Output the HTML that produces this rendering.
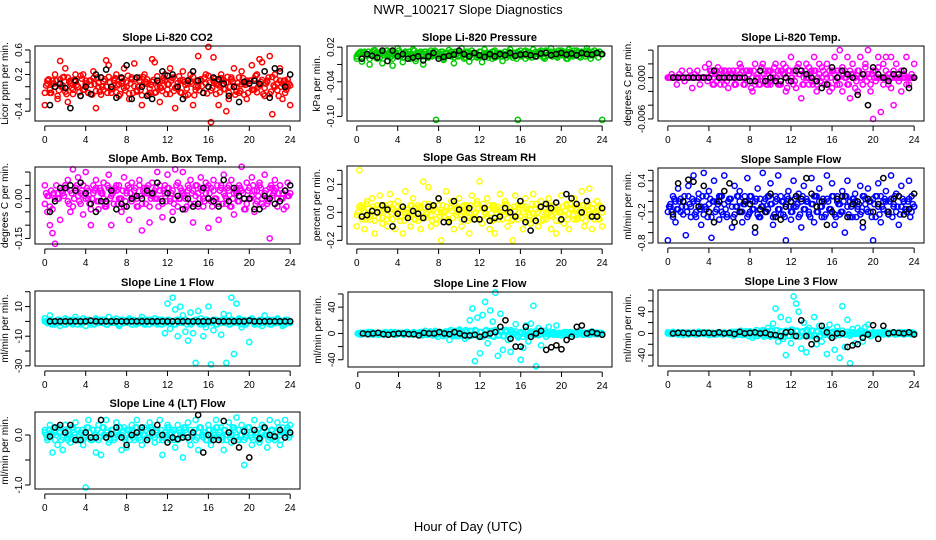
<!DOCTYPE html>
<html><head><meta charset="utf-8"><style>
body{margin:0;background:#fff}
svg{display:block;font-family:"Liberation Sans",Arial,sans-serif}
</style></head><body>
<svg id="chart" width="936" height="540" viewBox="0 0 936 540" xmlns="http://www.w3.org/2000/svg">
<rect width="936" height="540" fill="#fff"/>
<text x="468" y="14" text-anchor="middle" font-size="13">NWR_100217  Slope Diagnostics</text>
<text x="468" y="531" text-anchor="middle" font-size="13">Hour of Day (UTC)</text>
</svg>
<script>
const xTicks=[0,4,8,12,16,20,24];
// CO2
const co2Vals=[-0.3,0.1,-0.1,0.05,0.2,-0.2,0.42,0.15,0.3,-0.25,0.1,-0.05,0.2,0.0,-0.15,0.2,0.05,-0.1,0.1,0.25,-0.35,0.0,0.15,-0.05,0.43,0.35,-0.1,0.1,0.2,-0.15,0.05,0.3,0.0,-0.2,0.12,0.38,-0.08,0.15,-0.3,0.2,0.05,-0.1,0.45,0.4,0.0,-0.25,0.1,0.2,-0.05,0.3,0.15,-0.35,0.0,0.1,0.25,-0.15,0.05,0.2,-0.3,0.0,0.5,0.1,-0.1,0.2,0.65,-0.58,0.48,0.05,-0.3,0.2,0.1,-0.4,-0.2,0.15,0.3,0.0,-0.1,0.25,0.05,-0.2,0.1,0.35,-0.05,0.2,0.45,0.4,-0.15,0.1,0.5,-0.45,0.2,0.05,0.3,-0.2,0.1,0.0,-0.3];
const co2Core=[-0.1,0.05,-0.05,0.1,0.0,-0.15,0.12,0.02,-0.08,0.15,0.05,-0.12,0.08,0.0,0.18,-0.05,0.1,-0.1,0.03,0.14,-0.07,0.06,-0.13,0.09,0.0,0.16,-0.04,0.11,-0.09,0.04,0.13,-0.02,0.07,-0.11,0.15,0.01,-0.06,0.1,-0.14,0.05,0.12,-0.03,0.08,-0.1,0.17,0.0,-0.07,0.1,0.04,-0.12,0.14,-0.02,0.06,-0.09,0.11,0.03,-0.13,0.08,0.16,-0.05,0.0,0.12,-0.1,0.05,0.18,-0.06,0.09,-0.12,0.02,0.14,-0.04,0.07,-0.1,0.12,0.0,-0.08,0.15,0.04,-0.13,0.1,0.06,-0.05,0.13,-0.09,0.03,0.11,-0.02,0.08,-0.12,0.16,0.0,-0.06,0.1,0.05,-0.1,0.12,0.02];
const co2Blk=[-0.3,0.0,0.05,-0.02,-0.35,0.1,-0.15,0.0,-0.12,0.2,0.15,0.28,0.0,-0.18,0.15,0.35,-0.2,0.15,0.0,-0.15,-0.2,0.1,0.25,0.18,0.2,0.0,-0.2,0.1,0.25,0.1,-0.1,0.0,0.15,0.12,0.05,-0.15,0.0,-0.25,0.08,0.05,0.1,0.05,0.25,-0.18,0.3,0.25,0.0,0.2];
// Pressure
const presVals=[0.0,0.01,-0.005,0.012,0.005,-0.01,0.008,0.015,0.0,0.01,-0.008,0.006,0.014,0.002,-0.012,0.01,0.018,0.004,-0.006,0.012,0.008,0.0,0.016,-0.004,0.01,0.006,-0.01,0.012,0.002,0.014,0.008,-0.106,0.006,0.012,-0.002,0.01,0.015,0.004,-0.008,0.012,0.006,0.018,0.0,0.01,-0.005,0.014,0.008,0.002,0.012,-0.006,0.016,0.006,0.01,0.0,0.014,0.004,0.01,-0.004,0.012,0.008,0.016,0.002,0.01,-0.106,0.014,0.006,0.0,0.012,0.008,0.016,0.004,0.01,0.014,0.002,0.012,0.006,0.018,0.01,0.004,0.014,0.008,0.012,0.0,0.016,0.006,0.01,0.014,0.004,0.012,0.008,0.018,0.01,0.006,0.014,0.01,0.012,-0.106];
const presCore=[0.004,0.008,0.002,0.01,0.006,0.0,0.012,0.004,0.008,0.002,0.01,0.006,0.004,0.012,0.0,0.008,0.006,0.01,0.002,0.012,0.004,0.008,0.006,0.0,0.01,0.012,0.004,0.008,0.002,0.01,0.006,0.012,0.004,0.008,0.0,0.01,0.006,0.012,0.002,0.008,0.004,0.01,0.006,0.012,0.008,0.002,0.01,0.006,0.012,0.004,0.008,0.01,0.006,0.012,0.002,0.008,0.01,0.004,0.012,0.006,0.008,0.01,0.004,0.012,0.006,0.008,0.014,0.004,0.01,0.006,0.012,0.008,0.01,0.004,0.014,0.006,0.012,0.008,0.01,0.006,0.014,0.008,0.012,0.004,0.01,0.014,0.006,0.012,0.008,0.01,0.014,0.006,0.012,0.008,0.01,0.012,0.008];
const presBlk=[0.0,0.008,0.005,0.002,0.014,-0.004,0.014,0.004,0.008,0.0,0.002,0.004,-0.003,0.004,0.01,0.0,0.003,0.005,0.007,0.014,0.008,0.004,0.01,0.006,0.003,0.008,0.004,0.008,0.006,0.01,0.005,0.007,0.008,0.006,0.004,0.009,0.01,0.006,0.008,0.01,0.007,0.009,0.006,0.01,0.008,0.007,0.01,0.008];
// Li-820 Temp
const tempVals=[0,0,0,0,0,0,0,0,0,0,0,0,0,0,0,0,0.002,0.001,-0.001,0.001,0,0.001,-0.001,0,0.001,0,-0.001,0.001,0.002,0,-0.001,0.001,0.001,-0.002,0.002,0,-0.001,0.002,0.001,-0.001,0.001,0,0.002,-0.001,0.001,0.002,-0.002,0.001,0.003,-0.001,0.001,0.002,-0.003,0,0.002,-0.001,0.001,0.003,-0.002,0.002,0,-0.001,0.002,-0.002,0.001,0.003,-0.001,0.004,-0.002,0.001,0.003,-0.003,0.002,0,-0.002,0.003,-0.001,0.002,0.004,-0.002,-0.006,0.001,0.003,-0.005,0.002,0.003,-0.001,0.003,-0.004,0.002,0,-0.002,0.001,0.003,-0.001,0,0.002];
const tempCore=[0,0,0,0,0,0,0,0,0,0,0,0,0,0,0,0,0,0.0005,0,-0.0005,0.0005,0,0.001,-0.0005,0,0.0005,-0.001,0,0.0005,0.001,0,-0.0005,0.001,0,-0.001,0.0005,0.001,-0.0005,0,0.001,-0.001,0.0005,0,0.001,-0.001,0.0005,0.0015,-0.0005,0,0.001,-0.0015,0.0005,0.001,-0.001,0,0.0015,-0.0005,0.001,-0.001,0.0005,0.0015,-0.001,0,0.001,-0.0015,0.0005,0.001,-0.001,0.0015,0,-0.001,0.001,0.0005,-0.0015,0.001,0,-0.001,0.0015,0.0005,-0.001,0.001,-0.0005,0.0015,0,-0.001,0.001,0.0005,-0.0015,0.001,0,-0.0005,0.001,0.0005,-0.001,0,0.0005,0];
const tempBlk=[0,0,0,0,0,0,0,0,0.001,0,0,0,0,0,0,-0.0005,-0.0005,0.001,-0.0005,0,-0.0005,-0.0005,0,-0.0005,0.001,0.001,0.0005,0,-0.0005,-0.0015,-0.001,0.0015,0,0.001,0.0005,0,-0.0025,0.0005,-0.004,0.0015,0.0005,0,-0.0005,0.0005,0.0005,0.001,-0.0015,0];
// Amb Box Temp
const ambVals=[0.05,-0.05,-0.1,-0.13,-0.17,0.0,-0.08,0.02,0.05,0.07,-0.05,0.11,0.04,0.08,0.02,-0.06,0.1,0.0,-0.1,0.05,0.07,-0.04,0.02,0.06,-0.02,0.09,-0.1,0.03,0.05,0.0,-0.05,0.08,0.03,-0.08,0.06,0.01,-0.03,0.07,-0.12,0.04,0.02,-0.09,0.06,0.0,0.1,0.03,-0.07,0.05,0.09,0.0,-0.05,0.11,0.06,0.0,0.1,-0.04,0.03,0.07,-0.09,0.05,0.02,0.08,-0.03,0.06,-0.11,0.04,0.07,0.0,-0.08,0.05,0.09,-0.02,0.03,0.07,-0.06,0.02,0.05,0.12,-0.04,0.06,0.0,0.08,-0.05,0.03,0.06,-0.02,0.09,0.0,-0.15,0.04,0.07,-0.03,0.05,0.0,0.03,0.06,0.02];
const ambCore=[-0.02,0.01,-0.03,-0.04,0.0,0.02,0.04,0.02,0.05,-0.01,0.03,-0.03,0.04,0.01,-0.02,0.05,0.0,0.03,-0.04,0.02,0.04,-0.01,0.03,0.0,-0.03,0.04,0.01,-0.02,0.03,0.05,0.0,-0.03,0.02,0.04,-0.01,0.03,0.0,0.05,-0.02,0.02,0.04,-0.03,0.01,0.03,0.0,0.05,-0.02,0.02,0.04,-0.01,0.03,0.0,-0.03,0.04,0.02,0.0,0.05,-0.02,0.03,0.01,-0.03,0.04,0.0,0.02,0.05,-0.01,0.03,0.0,-0.02,0.04,0.02,0.0,0.05,-0.03,0.02,0.04,-0.01,0.03,0.0,-0.02,0.04,0.01,0.03,-0.01,0.05,0.0,0.02,-0.02,0.04,0.01,0.03,0.0,0.05,0.02,0.03,0.01,0.02];
const ambBlk=[-0.05,-0.01,0.04,0.04,0.05,0.03,0.06,0.02,-0.02,-0.05,-0.01,-0.01,0.03,-0.04,-0.02,-0.03,0.0,0.01,0.0,0.03,0.02,0.06,-0.01,0.02,-0.08,0.01,-0.04,0.0,-0.03,-0.02,0.04,0.0,-0.01,-0.03,0.07,-0.01,0.04,0.01,0.0,0.0,-0.04,-0.04,0.01,0.0,-0.02,-0.01,0.03,0.05];
// Gas Stream RH
const rhVals=[-0.1,0.3,0.03,-0.12,0.08,-0.05,0.1,-0.15,0.0,0.12,-0.08,0.05,-0.1,0.13,0.02,-0.12,0.08,-0.03,-0.15,0.15,0.0,-0.1,0.1,-0.05,0.05,-0.12,0.22,0.0,0.18,-0.1,0.05,-0.08,0.1,-0.2,0.0,0.15,-0.05,0.08,-0.12,0.02,0.1,-0.1,0.05,0.0,-0.15,0.12,-0.05,0.08,0.22,-0.08,0.0,0.1,-0.12,0.05,-0.15,0.02,0.13,-0.05,0.08,-0.1,0.0,-0.2,0.12,-0.05,0.05,-0.12,0.1,0.0,-0.08,0.13,0.02,-0.1,0.08,-0.05,0.0,0.1,-0.12,0.05,-0.15,0.0,0.12,-0.08,0.05,-0.12,0.02,0.1,-0.05,0.0,0.15,-0.1,0.05,0.17,-0.12,0.0,0.08,-0.05,-0.1];
const rhCore=[-0.02,0.04,-0.05,0.0,0.06,-0.03,0.02,-0.06,0.05,0.0,-0.04,0.03,-0.02,0.06,-0.05,0.01,0.04,-0.06,0.02,0.0,-0.03,0.05,-0.01,0.03,-0.06,0.04,0.0,-0.04,0.06,-0.02,0.02,-0.05,0.05,0.0,-0.03,0.04,-0.06,0.01,0.06,-0.02,0.03,-0.05,0.0,0.05,-0.04,0.02,-0.01,0.06,-0.05,0.03,0.0,-0.03,0.05,-0.06,0.02,0.04,-0.02,0.0,0.06,-0.04,0.03,-0.05,0.01,0.05,-0.03,0.0,0.04,-0.06,0.02,-0.01,0.06,-0.04,0.03,0.0,-0.05,0.05,-0.02,0.02,-0.06,0.04,0.0,-0.03,0.06,-0.01,0.03,-0.05,0.02,0.05,-0.04,0.0,0.04,-0.02,0.03,-0.05,0.01,0.05,0.0];
const rhBlk=[-0.03,-0.02,0.01,0.0,0.05,0.02,-0.1,-0.01,0.04,-0.04,0.01,-0.01,-0.04,0.04,0.05,0.1,-0.07,-0.07,0.08,0.02,-0.05,0.03,-0.05,-0.05,0.03,-0.06,-0.04,-0.03,0.03,0.0,-0.03,0.08,-0.07,-0.13,-0.06,0.04,0.06,0.03,0.07,-0.05,0.13,0.1,0.06,0.0,0.08,-0.03,-0.03,0.03];
// Sample Flow
const sfVals=[-0.75,-0.1,0.1,-0.4,0.25,-0.2,0.0,-0.65,0.3,-0.1,0.5,-0.3,0.15,-0.45,0.55,-0.15,0.2,-0.7,0.4,0.0,-0.35,0.1,0.5,-0.25,0.05,-0.5,0.3,-0.1,0.2,-0.4,0.1,0.45,-0.2,0.0,-0.6,0.25,-0.3,0.55,0.05,-0.15,0.35,-0.45,0.1,0.5,-0.25,0.0,-0.75,0.2,-0.35,0.4,-0.1,0.15,-0.5,0.3,0.0,-0.2,0.45,-0.4,0.1,0.25,-0.3,0.0,0.5,-0.15,0.35,-0.45,0.1,-0.25,0.2,-0.6,0.4,0.0,-0.3,0.15,-0.1,0.3,-0.5,0.05,0.25,-0.2,-0.75,0.1,0.35,-0.4,0.0,0.2,-0.25,0.5,-0.1,0.15,-0.45,0.3,0.0,-0.2,0.4,0.1,-0.1];
const sfCore=[-0.2,-0.05,-0.3,0.0,-0.15,0.05,-0.25,-0.1,0.1,-0.3,0.0,-0.2,0.05,-0.1,-0.25,0.1,-0.05,-0.3,0.0,-0.15,0.1,-0.2,-0.05,-0.3,0.05,-0.1,-0.25,0.1,0.0,-0.2,-0.05,-0.3,0.1,-0.15,0.0,-0.25,0.05,-0.1,-0.2,0.1,-0.05,-0.3,0.0,-0.15,0.1,-0.25,-0.05,0.05,-0.2,-0.1,0.1,-0.3,0.0,-0.15,0.05,-0.25,-0.05,0.1,-0.2,0.0,-0.1,-0.3,0.05,-0.15,0.1,-0.25,0.0,-0.05,-0.2,0.1,-0.1,-0.3,0.05,0.0,-0.15,-0.25,0.1,-0.05,-0.2,0.0,0.05,-0.3,-0.1,0.1,-0.15,0.0,-0.25,0.05,-0.05,-0.2,0.1,-0.1,0.0,-0.15,0.05,-0.2,-0.1];
const sfBlk=[-0.25,0.35,0.0,0.42,0.38,-0.1,0.3,-0.2,-0.4,0.0,0.2,0.35,-0.4,-0.2,0.0,-0.05,-0.5,-0.15,-0.2,0.15,-0.3,-0.35,-0.1,0.0,0.1,0.05,0.45,0.15,-0.1,0.0,-0.45,-0.2,0.05,0.1,-0.3,-0.05,0.0,-0.4,0.05,-0.2,-0.05,0.45,-0.2,0.05,0.1,-0.25,-0.15,0.15];
// Line 1 Flow
const l1Vals=[2,-1,4,0,-2,1,-3,0,2,-1,1,-2,3,0,-1,2,-3,1,0,-2,2,-1,1,0,-2,3,-1,0,2,-3,1,-1,0,2,-2,1,0,-1,3,-2,1,0,-1,2,-2,0,1,-8,12,-5,16,8,-10,10,4,-7,-13,6,-8,-28,7,2,-10,-4,10,-29,-6,1,0,-9,5,-28,4,16,-22,12,2,-4,1,-1,-14,2,-2,0,1,-3,4,0,-2,1,-1,2,0,-3,1,0,-1];
const l1Core=[0,-1,1,-2,0,1,-1,0,-2,1,0,-1,1,0,-2,0,1,-1,0,-2,1,0,-1,1,-2,0,1,-1,0,-2,1,0,-1,1,0,-2,0,1,-1,0,-2,1,0,-1,1,-2,0,1,-1,0,-2,1,0,-1,1,0,-2,0,1,-1,0,-2,1,0,-1,1,-2,0,1,-1,0,-2,1,0,-1,1,0,-2,0,1,-1,0,-2,1,0,-1,1,-2,0,1,-1,0,-2,1,0];
const l1Blk=[0,0,0,0,0,0,0,0,0.5,0,0,0,0,0,0,0,0,0,0,0,0,0,0,0,0,0,0,0,0,0,0,0,0.5,0,0,0,0,0,0,0.5,0,0,0,0,0,0,0,0];
// Line 2 Flow
const l2Vals=[0,-2,1,0,-1,2,-2,0,1,-1,0,2,-1,0,1,-2,0,1,-1,2,0,-1,1,-2,0,2,-1,0,1,-1,0,-2,2,0,-1,1,-10,0,-4,2,6,-2,-8,3,20,38,-42,24,-30,28,48,-15,35,18,62,-34,30,-25,5,-10,-28,2,14,-6,-40,-22,12,-12,15,42,-50,8,-18,4,-5,10,1,-2,12,0,-3,2,-1,0,1,-2,0,2,-1,1,0,-2,3,0,-1,1,0];
const l2Core=[0,1,-1,0,2,-1,0,1,-2,0,1,-1,0,2,0,-1,1,0,-2,1,0,-1,2,0,1,-1,0,-2,1,0,2,-1,0,1,-2,0,3,-3,2,-4,4,-2,3,-5,4,-3,5,-4,2,-5,4,-2,3,-4,5,-3,2,-4,4,-3,5,-2,3,-4,2,-5,4,-3,3,-2,4,-3,2,-1,1,-2,0,2,-1,1,0,-1,2,0,-1,1,-2,0,1,0,-1,2,0,-1,1,0,0];
const l2Blk=[0,-1,0,1,-1,-2,-1,0,0,-1,-1,-3,1,0,0,2,0,-1,2,0,-3,-3,-2,-5,-2,0,2,10,20,-8,-20,-20,10,-5,0,4,-25,-21,-18,-24,-10,-5,10,12,0,2,0,-2];
// Line 3 Flow
const l3Vals=[2,-1,3,0,-2,1,-3,0,2,-1,1,-2,3,0,-1,2,-3,1,0,-2,2,-1,1,0,-2,3,-1,0,2,-3,1,-1,4,-8,2,-5,0,6,-3,10,-6,18,46,-15,30,-10,-40,25,-18,68,55,40,-28,20,-35,10,-5,30,-20,14,-15,5,-38,16,-8,-30,12,-45,50,-25,25,-55,8,-18,10,5,-15,12,16,-5,2,-3,1,0,-2,3,-1,0,2,-1,1,0,-2,1,0,2,0];
const l3Core=[0,1,-1,0,2,-1,0,1,-2,0,1,-1,0,2,0,-1,1,0,-2,1,0,-1,2,0,1,-1,0,-2,1,0,2,-1,0,1,-2,0,3,-3,4,-4,5,-2,6,-5,4,-6,5,-4,7,-5,4,-6,3,-4,6,-5,5,-4,4,-6,5,-3,6,-4,3,-5,4,-3,5,-2,3,-4,2,-1,1,-2,0,2,-1,1,0,-1,2,0,-1,1,-2,0,1,0,-1,2,0,-1,1,0,0];
const l3Blk=[0,1,1,0,1,0,1,1,0,2,0,1,-1,3,0,1,2,0,1,-2,-3,-5,2,3,-5,24,-5,-20,-10,14,2,-8,0,0,-25,-22,-20,-8,-2,15,-10,14,0,2,1,0,2,-2];
// Line 4 (LT) Flow
const l4Vals=[0.1,-0.1,0.2,-0.35,0.05,-0.2,0.15,-0.3,0.2,0.0,-0.15,0.1,0.25,-0.1,0.05,-0.2,-1.05,0.3,-0.1,0.1,-0.35,0.2,-0.4,0.0,0.3,-0.15,0.1,-0.05,0.25,0.0,-0.3,0.15,-0.25,0.1,0.2,-0.1,0.3,0.0,-0.2,0.15,-0.05,0.25,0.1,-0.15,0.05,0.3,-0.4,0.0,0.2,-0.1,0.1,-0.25,0.2,0.0,-0.45,0.1,0.25,-0.2,0.05,0.3,-0.3,0.15,0.0,-0.1,0.2,-0.2,0.1,0.3,-0.05,0.15,-0.3,0.0,0.25,-0.15,0.1,0.35,-0.1,0.2,-0.6,0.0,0.15,-0.2,0.3,0.05,-0.15,0.2,0.0,-0.25,0.3,0.1,-0.1,0.25,-0.2,0.05,0.3,0.15,0.2];
const l4Core=[0.05,-0.05,0.1,0.0,-0.1,0.15,0.05,-0.05,0.1,-0.1,0.0,0.15,-0.05,0.1,0.05,-0.1,0.0,0.15,-0.05,0.1,0.0,-0.1,0.05,0.15,-0.05,0.0,0.1,-0.1,0.05,0.15,0.0,-0.05,0.1,-0.1,0.05,0.0,0.15,-0.05,0.1,0.0,-0.1,0.05,0.15,-0.05,0.1,0.0,-0.1,0.05,0.15,0.0,-0.05,0.1,-0.1,0.05,0.0,0.15,-0.05,0.1,0.0,-0.1,0.05,0.15,-0.05,0.0,0.1,-0.1,0.05,0.15,0.0,-0.05,0.1,-0.1,0.05,0.0,0.15,-0.05,0.1,0.0,-0.1,0.05,0.15,-0.05,0.1,0.0,-0.1,0.05,0.15,0.0,-0.05,0.1,-0.1,0.05,0.0,0.15,0.05,0.1,0.0];
const l4Blk=[-0.03,0.15,0.2,0.05,0.2,-0.1,-0.1,0.05,-0.05,-0.05,0.3,-0.05,0.02,0.15,-0.05,-0.2,0.0,0.05,0.15,-0.1,0.05,0.2,0.0,-0.15,-0.05,-0.08,-0.05,-0.05,0.05,0.4,-0.35,0.0,-0.1,-0.1,0.28,0.05,-0.12,-0.25,0.07,-0.45,0.1,-0.07,0.15,0.0,-0.03,0.1,-0.05,0.05];

const panels=[
 {name:'co2',title:'Slope Li-820 CO2',ylab:'Licor ppm per min.',col:'#ff0000',L:35,R:300,T:46,B:121,y0:-0.56,y1:0.665,ticks:[-0.4,-0.2,0,0.2,0.4,0.6],labels:[[-0.4,'-0.4'],[0.2,'0.2'],[0.6,'0.6']],v:co2Vals,c:co2Core,b:co2Blk},
 {name:'pressure',title:'Slope Li-820 Pressure',ylab:'kPa per min.',col:'#00cc00',L:347,R:612,T:46,B:121,y0:-0.108,y1:0.022,ticks:[0.02,-0.01,-0.04,-0.07,-0.1],labels:[[0.02,'0.02'],[-0.04,'-0.04'],[-0.1,'-0.10']],v:presVals,c:presCore,b:presBlk},
 {name:'li820-temp',title:'Slope Li-820 Temp.',ylab:'degrees C per min.',col:'#ff00ff',L:658,R:924,T:46,B:121,y0:-0.0063,y1:0.0046,ticks:[0.004,0.002,0,-0.002,-0.004,-0.006],labels:[[0,'0.000'],[-0.006,'-0.006']],v:tempVals,c:tempCore,b:tempBlk},
 {name:'amb-box-temp',title:'Slope Amb. Box Temp.',ylab:'degrees C per min.',col:'#ff00ff',L:35,R:300,T:167,B:244,y0:-0.171,y1:0.119,ticks:[0.1,0.05,0,-0.05,-0.1,-0.15],labels:[[0,'0.00'],[-0.15,'-0.15']],v:ambVals,c:ambCore,b:ambBlk},
 {name:'gas-stream-rh',title:'Slope Gas Stream RH',ylab:'percent per min.',col:'#ffff00',L:347,R:612,T:166,B:244,y0:-0.226,y1:0.331,ticks:[0.3,0.2,0.1,0,-0.1,-0.2],labels:[[0.2,'0.2'],[0,'0.0'],[-0.2,'-0.2']],v:rhVals,c:rhCore,b:rhBlk},
 {name:'sample-flow',title:'Slope Sample Flow',ylab:'ml/min per min.',col:'#0000ff',L:658,R:924,T:168,B:243,y0:-0.8,y1:0.645,ticks:[0.6,0.4,0.2,0,-0.2,-0.4,-0.6,-0.8],labels:[[0.4,'0.4'],[-0.2,'-0.2'],[-0.8,'-0.8']],v:sfVals,c:sfCore,b:sfBlk},
 {name:'line1-flow',title:'Slope Line 1 Flow',ylab:'ml/min per min.',col:'#00ffff',L:35,R:300,T:291,B:366,y0:-30.1,y1:20.5,ticks:[20,10,0,-10,-20,-30],labels:[[10,'10'],[-10,'-10'],[-30,'-30']],v:l1Vals,c:l1Core,b:l1Blk},
 {name:'line2-flow',title:'Slope Line 2 Flow',ylab:'ml/min per min.',col:'#00ffff',L:348,R:612,T:292,B:367,y0:-51,y1:63,ticks:[60,40,20,0,-20,-40],labels:[[40,'40'],[0,'0'],[-40,'-40']],v:l2Vals,c:l2Core,b:l2Blk},
 {name:'line3-flow',title:'Slope Line 3 Flow',ylab:'ml/min per min.',col:'#00ffff',L:658,R:924,T:290,B:366,y0:-60,y1:80,ticks:[80,60,40,20,0,-20,-40,-60],labels:[[40,'40'],[0,'0'],[-40,'-40']],v:l3Vals,c:l3Core,b:l3Blk},
 {name:'line4-flow',title:'Slope Line 4 (LT) Flow',ylab:'ml/min per min.',col:'#00ffff',L:35,R:300,T:412,B:489,y0:-1.08,y1:0.46,ticks:[0,-0.5,-1],labels:[[0,'0.0'],[-1,'-1.0']],v:l4Vals,c:l4Core,b:l4Blk}
];
const NS='http://www.w3.org/2000/svg';
const svg=document.getElementById('chart');
function mk(tag,attrs,parent){const e=document.createElementNS(NS,tag);for(const k in attrs)e.setAttribute(k,attrs[k]);parent.appendChild(e);return e;}
panels.forEach(p=>{
 const g=mk('g',{},svg);
 
 
 const w=p.R-p.L, x0=-24*0.04, x1=24*1.04;
 const X=h=>p.L+(h-x0)/(x1-x0)*w;
 const Y=v=>p.B-(v-p.y0)/(p.y1-p.y0)*(p.B-p.T);
 const t=mk('text',{x:(p.L+p.R)/2,y:p.T-5,'text-anchor':'middle','font-size':'11','font-weight':'bold'},g);
 t.textContent=p.title;
 
 
 const pts=mk('g',{fill:'none','stroke-width':'1.5'},g);
 
 
 const nc=p.c.length;
 p.c.forEach((v,i)=>{const c=mk('circle',{cx:X(24*i/(nc-1)),cy:Y(v),r:2.6,stroke:p.col},pts);
  
  });
 p.c.forEach((v,i)=>{if(i>=nc-1)return;const c=mk('circle',{cx:X(24*(i+0.5)/(nc-1)),cy:Y(p.c[nc-1-i]),r:2.6,stroke:p.col},pts);
  
  });
 const nv=p.v.length;
 p.v.forEach((v,i)=>{const c=mk('circle',{cx:X(24*i/(nv-1)),cy:Y(v),r:2.6,stroke:p.col},pts);
  
  });
 const nb=p.b.length;
 p.b.forEach((v,i)=>{const c=mk('circle',{cx:X(0.5+23.5*i/(nb-1)),cy:Y(v),r:2.6,stroke:'#000'},pts);
  
  });
 const box=mk('rect',{x:p.L,y:p.T,width:w,height:p.B-p.T,fill:'none',stroke:'#000','stroke-width':'1'},g);
 
 
 const ax=mk('g',{stroke:'#000','stroke-width':'1'},g);
 
 
 mk('line',{x1:X(0),x2:X(24),y1:p.B+5,y2:p.B+5},ax);
 xTicks.forEach(h=>{mk('line',{x1:X(h),x2:X(h),y1:p.B+5,y2:p.B+10},ax);
  const tt=mk('text',{x:X(h),y:p.B+22,'text-anchor':'middle','font-size':'10',stroke:'none',fill:'#000'},g);
  tt.textContent=h;
  
  });
 const ta=p.ticks;
 mk('line',{x1:p.L-5,x2:p.L-5,y1:Y(Math.max(...ta)),y2:Y(Math.min(...ta))},ax);
 ta.forEach(v=>mk('line',{x1:p.L-10,x2:p.L-5,y1:Y(v),y2:Y(v)},ax));
 p.labels.forEach(([v,s])=>{const tt=mk('text',{x:p.L-13,y:Y(v),'text-anchor':'middle','font-size':'10',transform:`rotate(-90 ${p.L-13} ${Y(v)})`},g);
  tt.textContent=s;
  
  });
 const yl=mk('text',{x:p.L-27,y:(p.T+p.B)/2,'text-anchor':'middle','font-size':'10',transform:`rotate(-90 ${p.L-27} ${(p.T+p.B)/2})`},g);
 yl.textContent=p.ylab;
 
 
});
</script>
</body></html>
